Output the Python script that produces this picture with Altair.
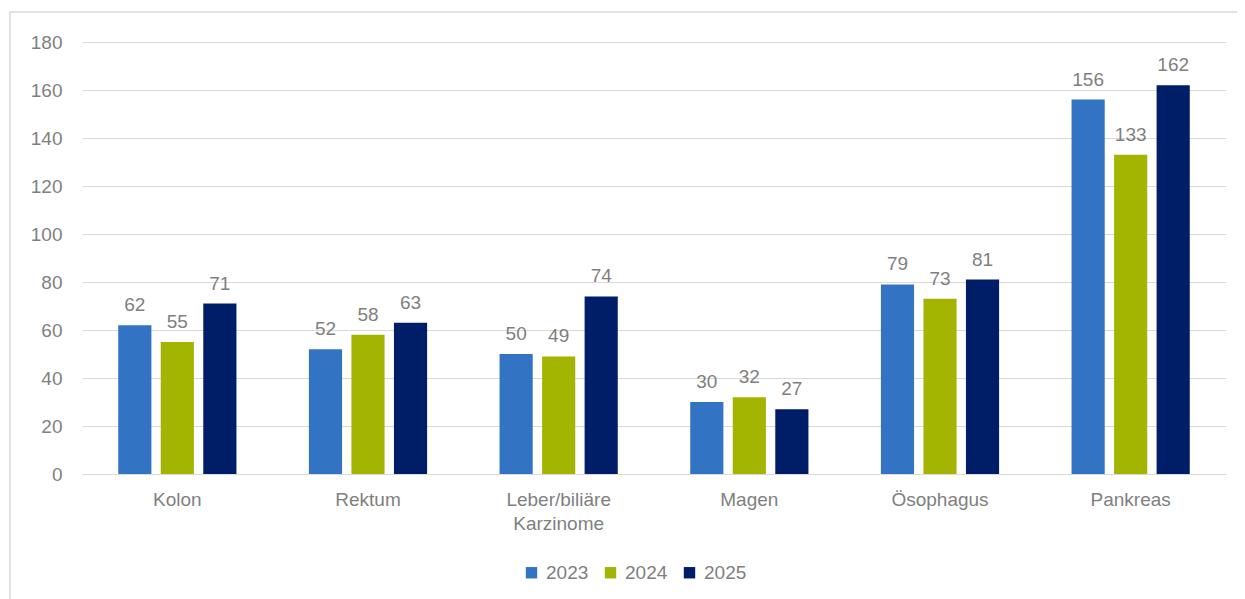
import altair as alt
import pandas as pd

categories = ["Kolon", "Rektum", "Leber/biliäre|Karzinome", "Magen", "Ösophagus", "Pankreas"]
years = ["2023", "2024", "2025"]
v2023 = [62, 52, 50, 30, 79, 156]
v2024 = [55, 58, 49, 32, 73, 133]
v2025 = [71, 63, 74, 27, 81, 162]
colors = ["#3373C4", "#A3B500", "#001D68"]

rows = []
for i, c in enumerate(categories):
    for y, vals in zip(years, [v2023, v2024, v2025]):
        rows.append({"Kategorie": c, "Jahr": y, "Wert": vals[i]})
df = pd.DataFrame(rows)

FONT = "Liberation Sans"
GRAY = "#7F7F7F"
FS = 19

x = alt.X("Kategorie:N", sort=categories,
          scale=alt.Scale(paddingInner=0.38, paddingOuter=0.19),
          axis=alt.Axis(title=None, labelAngle=0, labelFontSize=FS, labelColor=GRAY,
                        labelFont=FONT, ticks=False, domainColor="#D9D9D9",
                        labelPadding=16, labelExpr="split(datum.label, '|')",
                        labelLineHeight=24))
xoff = alt.XOffset("Jahr:N", sort=years, scale=alt.Scale(paddingInner=0.22))
y = alt.Y("Wert:Q", scale=alt.Scale(domain=[0, 180]),
          axis=alt.Axis(title=None, values=list(range(0, 181, 20)), labelFontSize=FS,
                        labelColor=GRAY, labelFont=FONT, ticks=False, domain=False,
                        gridColor="#D9D9D9", labelPadding=20))

base = alt.Chart(df)
bars = base.mark_bar().encode(
    x=x, xOffset=xoff, y=y,
    color=alt.Color("Jahr:N", sort=years,
                    scale=alt.Scale(domain=years, range=colors),
                    legend=alt.Legend(title=None, orient="none", direction="horizontal",
                                      legendX=440, legendY=521, symbolType="square",
                                      symbolSize=130, symbolStrokeWidth=0,
                                      labelFontSize=FS, labelColor=GRAY, labelFont=FONT,
                                      columnPadding=12, labelOffset=5))
)
labels = base.mark_text(baseline="bottom", dy=-10, fontSize=FS, color=GRAY, font=FONT).encode(
    x=x, xOffset=xoff, y=y, text="Wert:Q"
)
frame = alt.Chart(pd.DataFrame({"a": [0]})).mark_rect(
    fill=None, stroke="#D9D9D9", strokeWidth=1.5, clip=False
).encode(x=alt.value(-72), x2=alt.value(1180), y=alt.value(-30), y2=alt.value(640))

chart = alt.layer(frame, bars, labels).properties(
    width=1144, height=432,
    autosize=alt.AutoSizeParams(type="none"),
    padding={"left": 74, "top": 34, "right": 11, "bottom": 140},
    background="white",
).configure_view(strokeWidth=0, stroke="transparent")

chart.save("out.html", embed_options={"renderer": "svg", "actions": False})
